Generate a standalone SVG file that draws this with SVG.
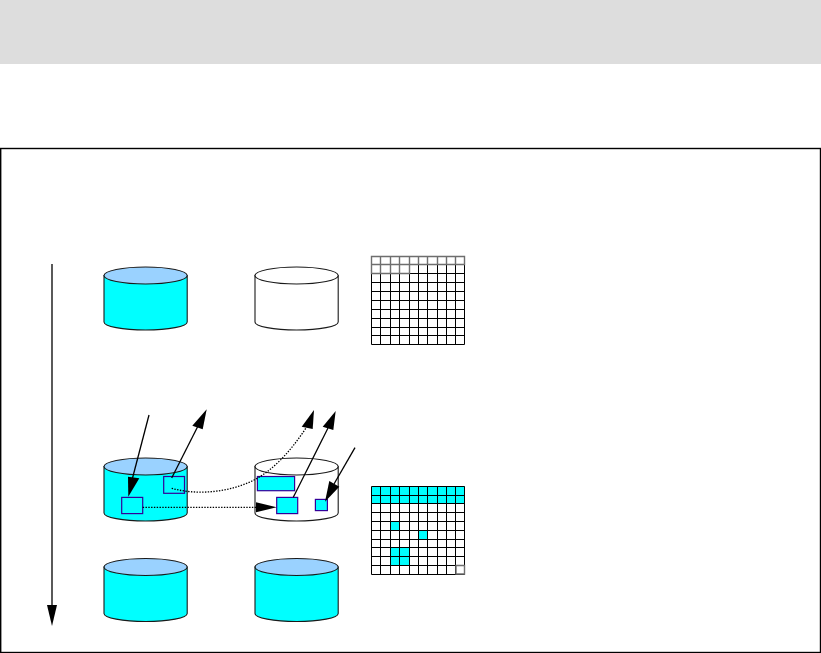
<svg xmlns="http://www.w3.org/2000/svg" width="821" height="653" viewBox="0 0 821 653">
<style>
.body{stroke:#1a1a1a;stroke-width:1.1}
.cy{fill:#00ffff}.wh{fill:#fff}.top{fill:#9ad2ff}
.box{stroke:#330099;stroke-width:1.2}
.grid{fill:none;stroke:#000;stroke-width:1}
.gr{fill:none;stroke:#6e6e6e;stroke-width:1.4}
.ln{fill:none;stroke:#000;stroke-width:1.3}
.dot{fill:none;stroke:#000;stroke-width:1.3;stroke-dasharray:1.4 1.4}
</style>
<defs>
<path id="side" d="M0 8.5V55A41.6 8 0 0 0 83.2 55V8.5Z"/>
</defs>
<rect id="header" x="0" y="0" width="821" height="64" fill="#dddddd"/>
<rect id="frame" x="0.7" y="148.5" width="819.8" height="504" fill="#fff" stroke="#000" stroke-width="1.4"/>
<g id="disk-a1" transform="translate(104,267)"><use href="#side" class="body cy"/><ellipse class="body top" cx="41.6" cy="8.5" rx="41.6" ry="8.5"/></g>
<g id="disk-b1" transform="translate(255,267)"><use href="#side" class="body wh"/><ellipse class="body wh" cx="41.6" cy="8.5" rx="41.6" ry="8.5"/></g>
<g id="disk-a2" transform="translate(104,458)"><use href="#side" class="body cy"/><ellipse class="body top" cx="41.6" cy="8.5" rx="41.6" ry="8.5"/></g>
<g id="disk-b2" transform="translate(255,458)"><use href="#side" class="body wh"/><ellipse class="body wh" cx="41.6" cy="8.5" rx="41.6" ry="8.5"/></g>
<g id="disk-a3" transform="translate(104,558.5)"><use href="#side" class="body cy"/><ellipse class="body top" cx="41.6" cy="8.5" rx="41.6" ry="8.5"/></g>
<g id="disk-b3" transform="translate(255,558.5)"><use href="#side" class="body cy"/><ellipse class="body top" cx="41.6" cy="8.5" rx="41.6" ry="8.5"/></g>
<g id="block-a-upper"><rect class="box cy" x="163.7" y="476.5" width="20.8" height="16.8"/></g>
<g id="block-a-lower"><rect class="box cy" x="121.7" y="497.4" width="21" height="16.2"/></g>
<g id="block-b-wide"><rect class="box cy" x="257.4" y="476.5" width="37.2" height="14.2"/></g>
<g id="block-b-mid"><rect class="box cy" x="276.7" y="497.4" width="21" height="16.2"/></g>
<g id="block-b-small"><rect class="box cy" x="315.4" y="499.4" width="12" height="11.2"/></g>
<g id="bitmap-before">
<path class="grid" d="M371.5 256.5H464.5M371.5 264.5H464.5M371.5 273.5H464.5M371.5 282.5H464.5M371.5 291.5H464.5M371.5 300.5H464.5M371.5 309.5H464.5M371.5 318.5H464.5M371.5 327.5H464.5M371.5 335.5H464.5M371.5 344.5H464.5M371.5 256.5V344.5M380.5 256.5V344.5M390.5 256.5V344.5M399.5 256.5V344.5M409.5 256.5V344.5M418.5 256.5V344.5M427.5 256.5V344.5M437.5 256.5V344.5M446.5 256.5V344.5M455.5 256.5V344.5M464.5 256.5V344.5"/>
<path class="gr" d="M371.5 256.5H464.5V264.5H371.5ZM371.5 264.5H409.5V273.5H371.5ZM380.5 256.5V273.5M390.5 256.5V273.5M399.5 256.5V273.5M409.5 256.5V264.5M418.5 256.5V264.5M427.5 256.5V264.5M437.5 256.5V264.5M446.5 256.5V264.5M455.5 256.5V264.5"/>
</g>
<g id="bitmap-after">
<path class="cy" d="M372 486H465V503.5H372ZM390.5 521.5H399.5V530.5H390.5ZM418.5 530.5H427.5V539.5H418.5ZM390.5 547.5H409.5V565.5H390.5Z"/>
<path class="grid" d="M371.5 486.5H464.5M371.5 495.5H464.5M371.5 503.5H464.5M371.5 512.5H464.5M371.5 521.5H464.5M371.5 530.5H464.5M371.5 539.5H464.5M371.5 547.5H464.5M371.5 556.5H464.5M371.5 565.5H464.5M371.5 574.5H464.5M371.5 486.5V574.5M380.5 486.5V574.5M390.5 486.5V574.5M399.5 486.5V574.5M409.5 486.5V574.5M418.5 486.5V574.5M427.5 486.5V574.5M437.5 486.5V574.5M446.5 486.5V574.5M455.5 486.5V574.5M464.5 486.5V574.5"/>
<path class="gr" d="M456 565.5H464.5V574H456Z"/>
</g>
<g id="connectors">
<path class="ln" d="M52 264V608"/><path d="M47 605H57L52 626Z"/>
<path class="ln" d="M149 415L132 480"/><path d="M128 476.7L139.3 478.3L128.3 496.7Z"/>
<path class="ln" d="M171.7 478L198 426"/><path d="M192.3 425.7L202.7 429.3L206.7 409.3Z"/>
<path class="dot" d="M171.7 488.3C195 495 225 493 250 482C272 472 290 452 306 428"/><path d="M301.7 426.7L312.7 429L314 410Z"/>
<path class="ln" d="M293.3 497.3L328 428"/><path d="M322.7 426.7L333.3 430L335.7 411Z"/>
<path class="ln" d="M355 447.7L334 484"/><path d="M329.3 481L339.3 486.7L325 501.7Z"/>
<path class="dot" d="M142.7 507.3H258"/><path d="M256 502.3V512.3L276.7 507.3Z"/>
</g>
</svg>
